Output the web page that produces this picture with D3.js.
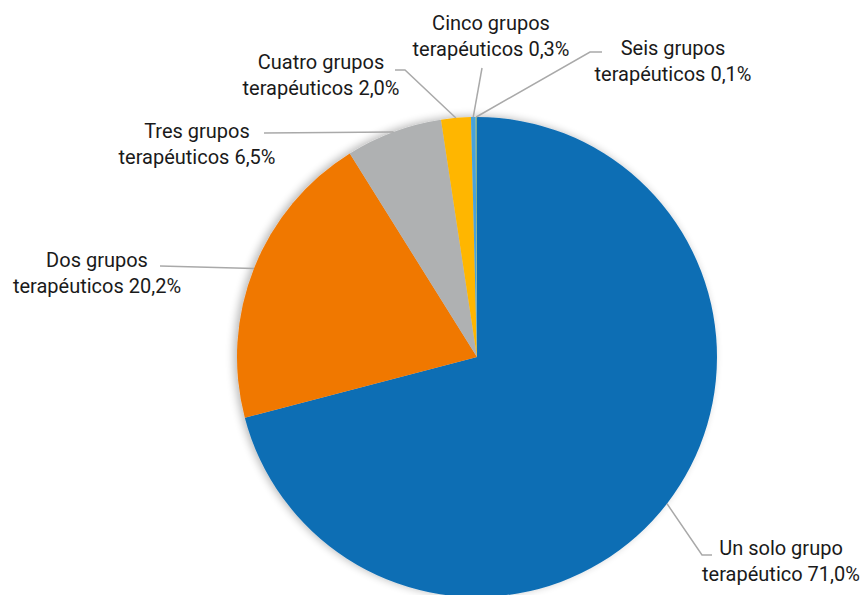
<!DOCTYPE html>
<html>
<head>
<meta charset="utf-8">
<script src="https://cdn.jsdelivr.net/npm/d3@7"></script>
<style>
  html, body { margin: 0; padding: 0; background: #ffffff; }
  svg { display: block; }
  text { font-family: Roboto, "Noto Sans", sans-serif; font-size: 20px; fill: #1a1a1a; }
</style>
</head>
<body>
<svg id="chart" width="865" height="595"></svg>
<script>
// Share of patients by number of therapeutic groups
const categories = [
  "Un solo grupo terapéutico",
  "Dos grupos terapéuticos",
  "Tres grupos terapéuticos",
  "Cuatro grupos terapéuticos",
  "Cinco grupos terapéuticos",
  "Seis grupos terapéuticos"
];
const values = [71.0, 20.2, 6.5, 2.0, 0.3, 0.1];
const labelLines = [
  ["Un solo grupo", "terapéutico 71,0%"],
  ["Dos grupos", "terapéuticos 20,2%"],
  ["Tres grupos", "terapéuticos 6,5%"],
  ["Cuatro grupos", "terapéuticos 2,0%"],
  ["Cinco grupos", "terapéuticos 0,3%"],
  ["Seis grupos", "terapéuticos 0,1%"]
];
const colors = ["#106eb4", "#f07800", "#afb1b2", "#ffb600", "#46a3dc", "#7fae8c"];

// Label placement: text centre x, first baseline y, leader-line path points (near the label)
const labelLayout = [
  { x: 781, y: 555, leader: [[702, 555], [712, 555]] },
  { x: 97,  y: 267, leader: [[160, 266]] },
  { x: 197, y: 138, leader: [[264, 133]] },
  { x: 321, y: 69,  leader: [[405, 70], [395, 70]] },
  { x: 491, y: 30,  leader: [[482, 68]] },
  { x: 673, y: 55,  leader: [[590, 52], [602, 52]] }
];

const width = 865, height = 595;
const cx = 477, cy = 357, radius = 240;

const svg = d3.select("#chart");

// soft shadow around the pie
const defs = svg.append("defs");
const f = defs.append("filter").attr("id", "pieShadow")
  .attr("x", "-10%").attr("y", "-10%").attr("width", "120%").attr("height", "120%");
f.append("feGaussianBlur").attr("in", "SourceAlpha").attr("stdDeviation", 4).attr("result", "b");
f.append("feOffset").attr("in", "b").attr("dx", -3).attr("dy", -1).attr("result", "o");
f.append("feComponentTransfer").attr("in", "o").attr("result", "s")
  .append("feFuncA").attr("type", "linear").attr("slope", 0.28);
const m = f.append("feMerge");
m.append("feMergeNode").attr("in", "s");
m.append("feMergeNode").attr("in", "SourceGraphic");

const data = categories.map((c, i) => ({ category: c, value: values[i], index: i }));

const pie = d3.pie().sort(null).value(d => d.value);
const arcs = pie(data);
const arc = d3.arc().innerRadius(0).outerRadius(radius);

const g = svg.append("g").attr("transform", `translate(${cx},${cy})`);
g.append("g").attr("filter", "url(#pieShadow)")
  .selectAll("path")
  .data(arcs)
  .join("path")
  .attr("d", arc)
  .attr("fill", d => colors[d.data.index]);

// Leader lines from each slice's outer edge to its label
const line = d3.line();
arcs.forEach(a => {
  const mid = (a.startAngle + a.endAngle) / 2;
  const start = [cx + radius * Math.sin(mid), cy - radius * Math.cos(mid)];
  const pts = [start].concat(labelLayout[a.data.index].leader);
  svg.append("path")
    .attr("d", line(pts))
    .attr("fill", "none")
    .attr("stroke", "#a9a9a9")
    .attr("stroke-width", 1.5);
});

// Labels
data.forEach(d => {
  const L = labelLayout[d.index];
  const t = svg.append("text").attr("text-anchor", "middle");
  labelLines[d.index].forEach((s, k) => {
    t.append("tspan").attr("x", L.x).attr("y", L.y + k * 26).text(s);
  });
});
</script>
</body>
</html>
